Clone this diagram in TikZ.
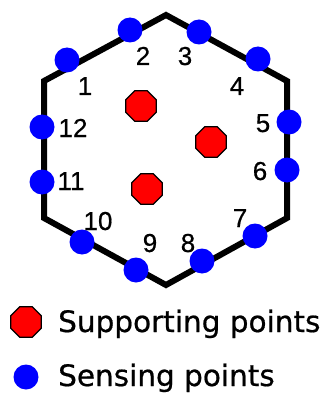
\documentclass[tikz,border=0pt]{standalone}
\usepackage{fontspec}
\setmainfont[FakeBold=0.6]{Liberation Sans}
\newfontfamily\legendfont[FakeBold=0.6]{DejaVu Sans}
\usetikzlibrary{shapes.geometric}
\tikzset{
  sensor/.style={circle,fill=blue,minimum size=25pt,inner sep=0pt},
  support/.style={regular polygon,regular polygon sides=8,fill=red,draw=black,line width=1.3pt,minimum size=33pt,inner sep=0pt},
  num/.style={anchor=base,inner sep=0pt,font=\fontsize{26}{26}\selectfont},
  legendtext/.style={anchor=base west,inner sep=0pt,font=\legendfont\fontsize{29.5}{30}\selectfont},
  hexline/.style={line width=6pt,line join=miter,draw=black}
}
\begin{document}
\begin{tikzpicture}[x=1pt,y=-1pt]
\useasboundingbox (0,0) rectangle (334,393);
% hexagon
\coordinate (vt) at (166,15);
\coordinate (vur) at (287,81);
\coordinate (vlr) at (287,218);
\coordinate (vb) at (166,285);
\coordinate (vll) at (44,218);
\coordinate (vul) at (44,81);
\draw[hexline] (vt) -- (vur) -- (vlr) -- (vb) -- (vll) -- (vul) -- cycle;
% sensing points
\node[sensor] (s1) at (67,60) {};
\node[sensor] (s2) at (130,30) {};
\node[sensor] (s3) at (199,32) {};
\node[sensor] (s4) at (258,59) {};
\node[sensor] (s5) at (289,122) {};
\node[sensor] (s6) at (287,170) {};
\node[sensor] (s7) at (255,236) {};
\node[sensor] (s8) at (202,261) {};
\node[sensor] (s9) at (136,270) {};
\node[sensor] (s10) at (82,242) {};
\node[sensor] (s11) at (42,182) {};
\node[sensor] (s12) at (42,127) {};
% labels
\node[num] (l1) at (85,95) {1};
\node[num] (l2) at (143,65) {2};
\node[num] (l3) at (185,65) {3};
\node[num] (l4) at (237,95) {4};
\node[num] (l5) at (263,132) {5};
\node[num] (l6) at (260,180) {6};
\node[num] (l7) at (240,227) {7};
\node[num] (l8) at (188,252) {8};
\node[num] (l9) at (150,252) {9};
\node[num] (l10) at (98,230) {10};
\node[num] (l11) at (71,190) {11};
\node[num] (l12) at (73,137) {12};
% supporting points
\node[support] (r1) at (141,106) {};
\node[support] (r2) at (211,142) {};
\node[support] (r3) at (147,189) {};
% legend
\node[support] (lr) at (26,322) {};
\node[legendtext] (lrt) at (58,332) {Supporting points};
\node[sensor] (lb) at (26,377) {};
\node[legendtext] (lbt) at (58,386) {Sensing points};
\end{tikzpicture}
\end{document}
